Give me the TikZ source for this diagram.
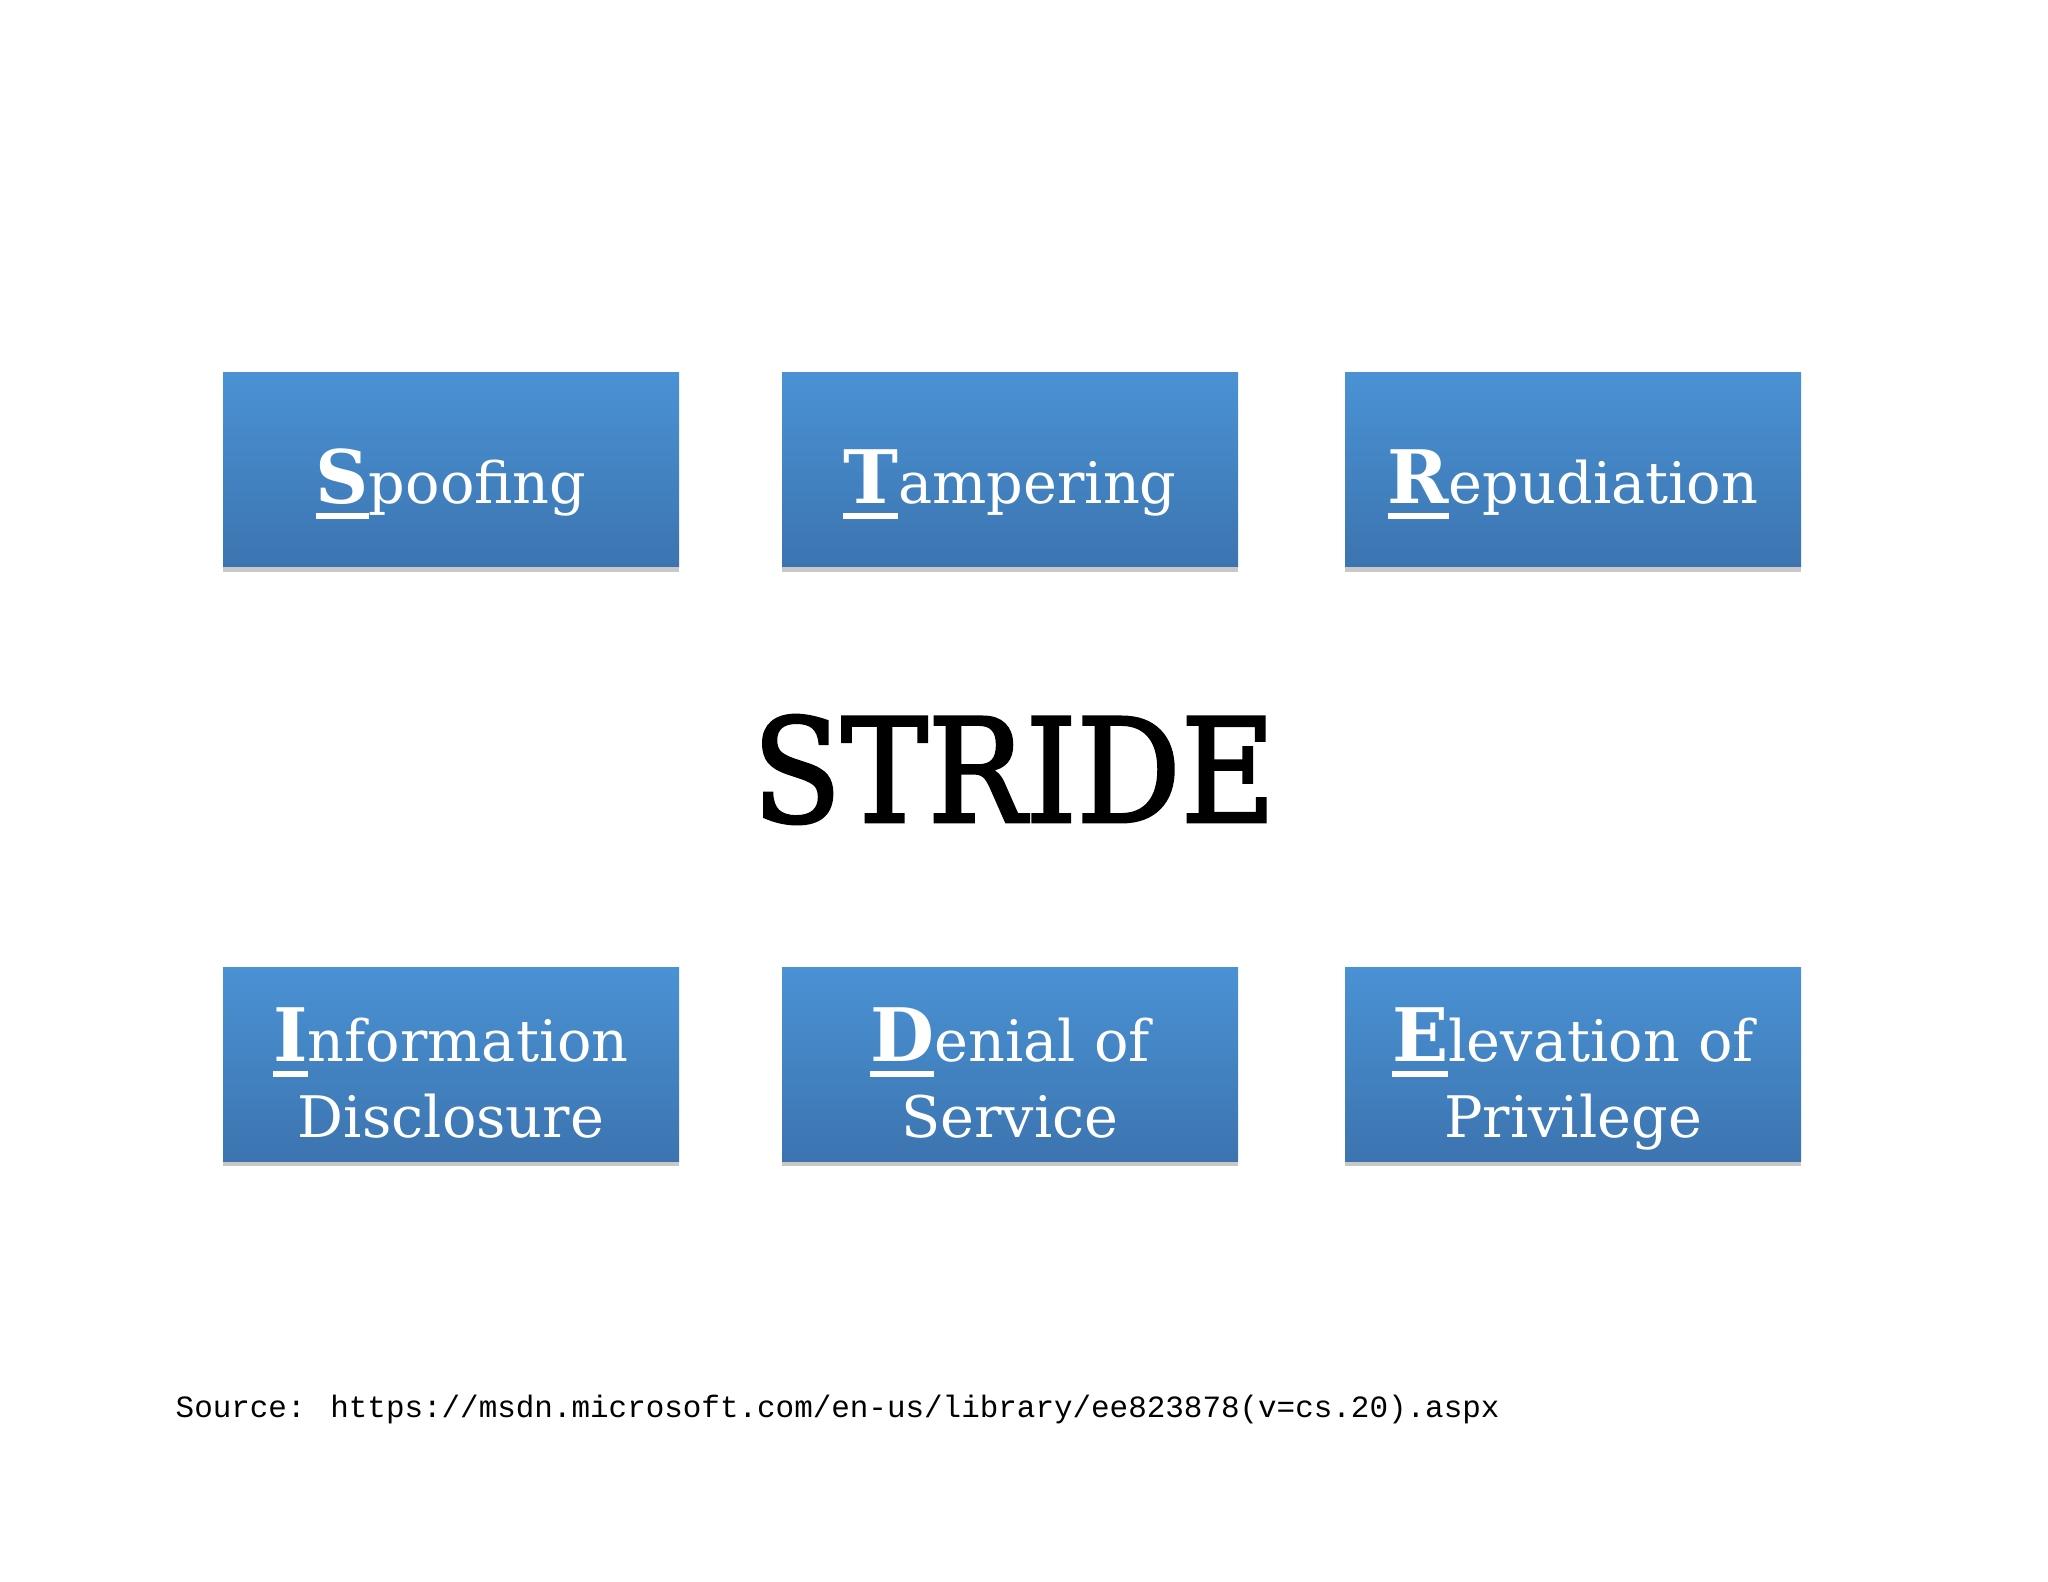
\documentclass[tikz,border=0pt]{standalone}
\usepackage{fontspec}
\setmainfont{DejaVu Serif}
\newfontfamily\stridefont[FakeStretch=0.90,FakeBold=2]{DejaVu Serif}
\newfontfamily\srcfont{Liberation Mono}
\usetikzlibrary{positioning,shadows}
\definecolor{boxtop}{HTML}{4A92D4}
\definecolor{boxbot}{HTML}{3C74B0}
\newcommand{\initl}[1]{\setbox0\hbox{\fontsize{21}{21}\selectfont\bfseries #1}\rlap{\rule[-4.5pt]{\wd0}{1.7pt}}\box0}
\tikzset{threat/.style={rectangle,top color=boxtop,bottom color=boxbot,minimum width=4.56cm,minimum height=1.94cm,inner sep=0pt,text=white,align=center,font=\fontsize{16.3}{21.6}\selectfont,drop shadow={shadow xshift=0pt,shadow yshift=-0.05cm,opacity=0.3,fill=black!70}},
one/.style={threat,text depth=2pt,text height=21pt},two/.style={threat,text depth=2.4pt,text height=44pt}}

\begin{document}
\begin{tikzpicture}[title/.style={font=\stridefont\fontsize{41}{41}\selectfont,inner sep=0pt},src/.style={font=\srcfont\fontsize{8.8}{10}\selectfont,inner sep=0pt}]
	\fill[white] (0,0) rectangle (20.48,-15.82);
	\useasboundingbox (0,0) rectangle (20.48,-15.82);
	\node[one] (s) at (4.51,-4.70) {\initl{S}poofing};
	\node[one] (t) at (10.10,-4.70) {\initl{T}ampering};
	\node[one] (r) at (15.73,-4.70) {\initl{R}epudiation};

	\node[title,anchor=base] (stride) at (10.14,-8.22) {STRIDE};

	\node[two] (i) at (4.51,-10.64) {\initl{I}nformation\\Disclosure};
	\node[two] (d) at (10.10,-10.64) {\initl{D}enial of\\Service};
	\node[two] (e) at (15.73,-10.64) {\initl{E}levation of\\Privilege};

	\node[src,anchor=base west] (source) at (1.75,-14.17) {Source: https://msdn.microsoft.com/en-us/library/ee823878(v=cs.20).aspx};
\end{tikzpicture}
\end{document}
